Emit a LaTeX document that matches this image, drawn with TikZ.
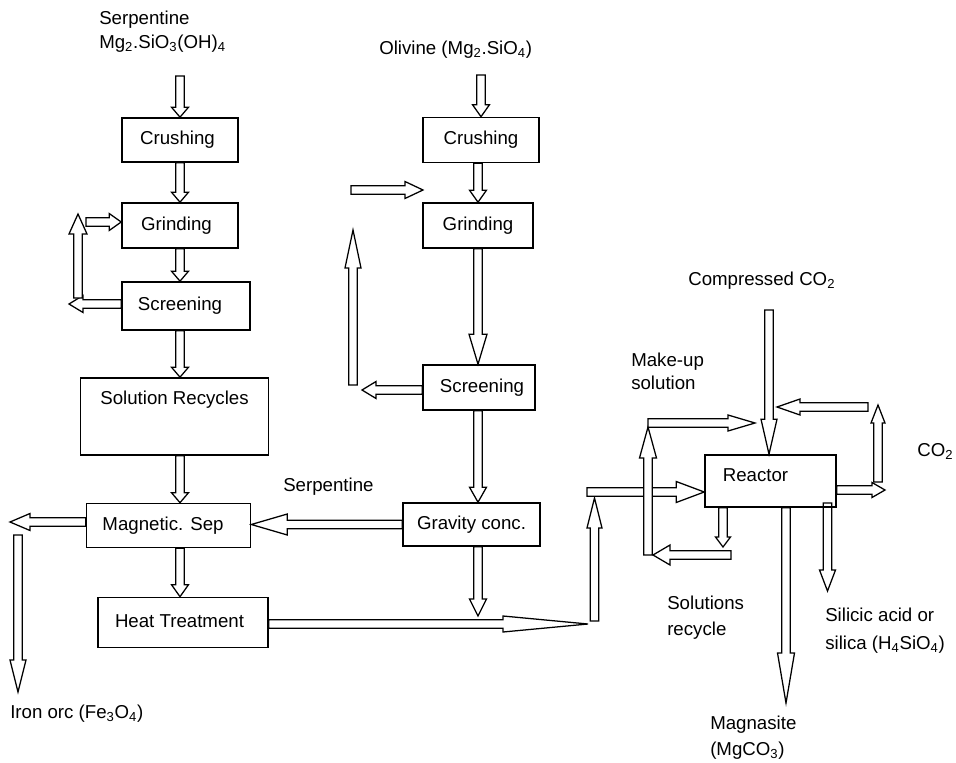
\documentclass[tikz,border=0pt]{standalone}
\usepackage{fontspec}
\setmainfont{Liberation Sans}
\usetikzlibrary{calc}
\pgfdeclarelayer{bg}
\pgfsetlayers{bg,main}
\newcommand\bsw{3.2pt}
% block arrow: [head half width px]{start}{end}{head length px}
\newcommand\barrow[4][8.5]{%
  \coordinate (bS) at #2; \coordinate (bE) at #3;
  \coordinate (bH) at ($(bE)!#4*0.75pt!(bS)$);
  \begin{pgfonlayer}{bg}
  \filldraw[blockarrow] ($(bS)!\bsw!90:(bE)$) -- ($(bH)!\bsw!90:(bE)$) -- ($(bH)!#1*0.75pt!90:(bE)$) -- (bE)
     -- ($(bH)!#1*0.75pt!-90:(bE)$) -- ($(bH)!\bsw!-90:(bE)$) -- ($(bS)!\bsw!-90:(bE)$) -- cycle;
  \end{pgfonlayer}}
\newcommand\sh[1]{\hspace*{#1pt}}
\begin{document}
\begin{tikzpicture}[x=0.75pt,y=-0.75pt,
  every node/.style={font=\fontsize{14}{17}\selectfont},
  box/.style 2 args={draw, line width=1.2pt, minimum width=#1*0.75pt, minimum height=#2*0.75pt,
     inner sep=0pt, text height=0.72em, text depth=0pt},
  lbl/.style={anchor=west, inner sep=0pt, text height=0.72em, text depth=0pt},
  blockarrow/.style={fill=white, draw=black, line width=0.95pt, line join=miter}]
\useasboundingbox (0,0) rectangle (956,763);

% boxes
\node[box={116}{44}] (crush1) at (180,140) {Crushing\sh{3.75}};
\node[box={116}{45}] (grind1) at (180,225.5) {Grinding\sh{5.25}};
\node[box={128}{48}] (screen1) at (186,306) {Screening\sh{9}};
\node[box={188}{77}, text depth=24.75pt] (solrec) at (174.5,416.5) {Solution Recycles};
\node[box={164}{44}] (magsep) at (168.5,525.5) {Magnetic. Sep\sh{8.25}};
\node[box={170}{50}] (heat) at (183,622.5) {Heat Treatment\sh{5.25}};
\node[box={116}{45}] (crush2) at (481,140) {Crushing};
\node[box={110}{45}] (grind2) at (478,225.5) {Grinding};
\node[box={112}{45}] (screen2) at (479,387.5) {\sh{4.5}Screening};
\node[box={137}{43}] (grav) at (471.5,524.5) {Gravity conc.};
\node[box={131}{52}, text depth=6pt] (reactor) at (770.5,481) {Reactor\sh{22.5}};

% labels
\node[lbl] (serpT) at (99,20) {Serpentine};
\node[lbl] (serpF) at (99,44) {Mg\textsubscript{2}.SiO\textsubscript{3}(OH)\textsubscript{4}};
\node[lbl] (oliv) at (379,50) {Olivine (Mg\textsubscript{2}.SiO\textsubscript{4})};
\node[lbl] (comp) at (688,281) {Compressed CO\textsubscript{2}};
\node[lbl] (mk1) at (631,362) {Make-up};
\node[lbl] (mk2) at (631,385) {solution};
\node[lbl] (co2) at (917,452) {CO\textsubscript{2}};
\node[lbl] (serp2) at (283,487) {Serpentine};
\node[lbl] (sr1) at (667,605) {Solutions};
\node[lbl] (sr2) at (667,631) {recycle};
\node[lbl] (si1) at (825,617) {Silicic acid or};
\node[lbl] (si2) at (825,645) {silica (H\textsubscript{4}SiO\textsubscript{4})};
\node[lbl] (iron) at (10,714) {Iron orc (Fe\textsubscript{3}O\textsubscript{4})};
\node[lbl] (mag1) at (710,725) {Magnasite};
\node[lbl] (mag2) at (710,751) {(MgCO\textsubscript{3})};

% free-end coordinates
\coordinate (a1) at (180,76);
\coordinate (l1) at (69,304);
\coordinate (v1b) at (78,298);
\coordinate (v1t) at (78,214);
\coordinate (h1s) at (86,222);
\coordinate (a2) at (481,75);
\coordinate (l2) at (362,390);
\coordinate (v2b) at (353,385);
\coordinate (v2t) at (353,230);
\coordinate (h2s) at (351,190);
\coordinate (h2e) at (423,190);
\coordinate (ironL) at (10,522);
\coordinate (ironT) at (18,535);
\coordinate (ironB) at (18,692);
\coordinate (gravE) at (478,616);
\coordinate (heatE) at (588,624);
\coordinate (upB) at (594.5,621);
\coordinate (upT) at (594.5,498);
\coordinate (inS) at (587,492);
\coordinate (muB) at (648,555);
\coordinate (muT) at (648,427);
\coordinate (muE) at (755,423);
\coordinate (coT) at (769,310);
\coordinate (rcS) at (868,407);
\coordinate (rcE) at (777,407);
\coordinate (rvB) at (878,482);
\coordinate (rvT) at (878,405);
\coordinate (co2E) at (885,490);
\coordinate (srB) at (723,547);
\coordinate (srS) at (731,555);
\coordinate (srE) at (653,555);
\coordinate (mgB) at (786,703);
\coordinate (siB) at (827.5,591);

% left column
\barrow{(a1)}{(crush1.north)}{10}
\barrow{(crush1.south)}{(grind1.north)}{10}
\barrow{(grind1.south)}{(grind1.south |- screen1.north)}{10}
\barrow{(grind1.south |- screen1.south)}{(grind1.south |- solrec.north)}{10}
\barrow{(grind1.south |- solrec.south)}{(grind1.south |- magsep.north)}{10}
\barrow{(grind1.south |- magsep.south)}{(grind1.south |- heat.north)}{12}
\barrow{(screen1.west |- l1)}{(l1)}{14}
\barrow[9]{(v1b)}{(v1t)}{20}
\barrow{(h1s)}{(grind1.west |- h1s)}{12}

% right column
\barrow{(a2)}{(crush2.north)}{12}
\barrow{(grind2.south |- crush2.south)}{(grind2.north)}{12}
\barrow[9]{(grind2.south)}{(grind2.south |- screen2.north)}{30}
\barrow{(grind2.south |- screen2.south)}{(grind2.south |- grav.north)}{15}
\barrow{(screen2.west |- l2)}{(l2)}{14}
\barrow[8]{(v2b)}{(v2t)}{38}
\barrow{(h2s)}{(h2e)}{18}
\barrow[10.5]{(grav.west)}{(magsep.east |- grav.west)}{36}
\barrow[8.5]{(magsep.west |- ironL)}{(ironL)}{20}
\barrow[8]{(ironT)}{(ironB)}{32}
\barrow{(gravE |- grav.south)}{(gravE)}{17}
\barrow[8]{(heat.east |- heatE)}{(heatE)}{85}
\barrow[7.5]{(upB)}{(upT)}{30}

% reactor
\barrow[10.5]{(inS)}{(reactor.west |- inS)}{28}
\barrow[8.5]{(muB)}{(muT)}{31}
\barrow[8]{(muT |- muE)}{(muE)}{27}
\barrow[8]{(coT)}{(coT |- reactor.north)}{35}
\barrow[8]{(rcS)}{(rcE)}{23}
\barrow[7]{(rvB)}{(rvT)}{18}
\barrow[7.5]{(reactor.east |- co2E)}{(co2E)}{13}
\barrow[7.5]{(srB |- reactor.south)}{(srB)}{10}
\barrow[10]{(srS)}{(srE)}{17}
\barrow[8.5]{(mgB |- reactor.south)}{(mgB)}{50}
\barrow[8]{(siB |- 0,503)}{(siB)}{21}
\end{tikzpicture}
\end{document}
